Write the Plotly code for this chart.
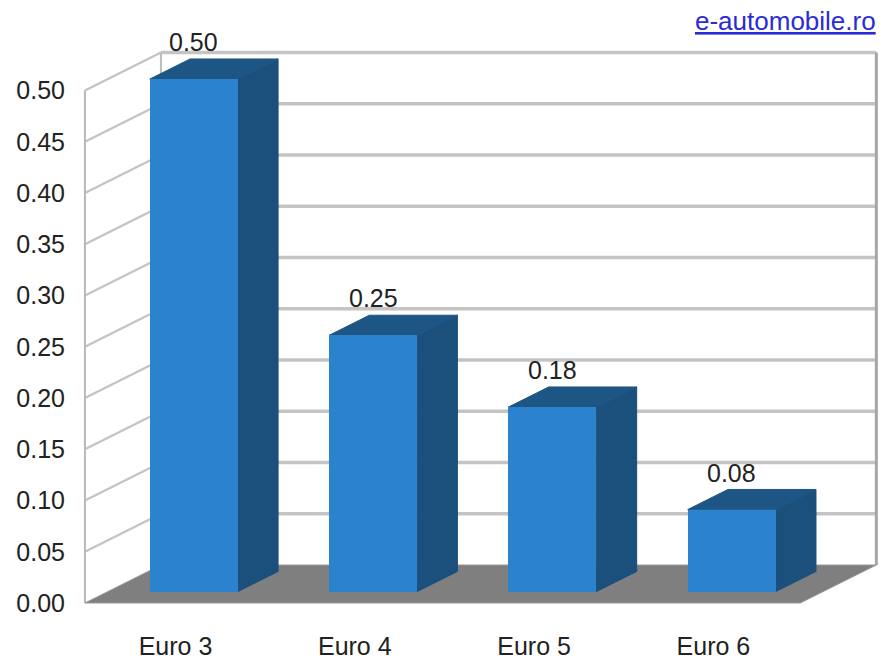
import plotly.graph_objects as go

# ---------------- data ----------------
categories = ["Euro 3", "Euro 4", "Euro 5", "Euro 6"]
values = [0.50, 0.25, 0.18, 0.08]
value_labels = ["0.50", "0.25", "0.18", "0.08"]
y_ticks = [0.00, 0.05, 0.10, 0.15, 0.20, 0.25, 0.30, 0.35, 0.40, 0.45, 0.50]
source_text = "e-automobile.ro"

# ---------------- styling / geometry ----------------
W, H = 883, 661
M_L, M_R, M_T, M_B = 68, 0, 0, 40
X0_PX = 171.0          # pixel of category index 0 (floor front)
PX_PER_CAT = 179.3
Y0_PX = 603.0          # pixel of value 0 (front plane)
PX_PER_VAL = 1025.0

DX = 76 / PX_PER_CAT   # depth vector of the whole floor, in data units
DY = 38 / PX_PER_VAL
F0 = 0.30              # bar front position within depth
FB = 0.53              # bar depth fraction
BAR_W = 88 / PX_PER_CAT
XL, XR = -0.48, 3.51   # floor extent (front edge)
YMAX = y_ticks[-1]
LABEL_SHIFT = 0.025

FONT = "Liberation Sans, Arial, sans-serif"
FS = 25
TXT = "#222222"
FRONT_C = "#2a83cc"
SIDE_C = "#1b4f7c"
TOP_C = "#1d5584"
GRID_C = "#c4c4c4"
FLOOR_C = "#7f7f7f"

x_range = [(M_L - X0_PX) / PX_PER_CAT, (W - M_R - X0_PX) / PX_PER_CAT]
y_range = [(Y0_PX - (H - M_B)) / PX_PER_VAL, (Y0_PX - M_T) / PX_PER_VAL]


def path(pts):
    return "M " + " L ".join(f"{x},{y}" for x, y in pts) + " Z"


shapes = []
# back wall
shapes.append(dict(type="path", layer="below", xref="x", yref="y",
                   path=path([(XL + DX, DY), (XR + DX, DY), (XR + DX, YMAX + DY), (XL + DX, YMAX + DY)]),
                   fillcolor="white", line=dict(width=0)))
# back-wall gridlines & left-wall gridlines
for t in y_ticks[1:]:
    shapes.append(dict(type="line", layer="below", xref="x", yref="y",
                       x0=XL + DX, x1=XR + DX, y0=t + DY, y1=t + DY,
                       line=dict(color=GRID_C, width=3.5)))
    shapes.append(dict(type="line", layer="below", xref="x", yref="y",
                       x0=XL, x1=XL + DX, y0=t, y1=t + DY,
                       line=dict(color=GRID_C, width=2.5)))
# wall edges
shapes.append(dict(type="line", layer="below", xref="x", yref="y",
                   x0=XL + DX, x1=XL + DX, y0=DY, y1=YMAX + DY,
                   line=dict(color="#bdbdbd", width=2)))
shapes.append(dict(type="line", layer="below", xref="x", yref="y",
                   x0=XR + DX, x1=XR + DX, y0=DY, y1=YMAX + DY,
                   line=dict(color="#a6a6a6", width=3)))
shapes.append(dict(type="line", layer="below", xref="x", yref="y",
                   x0=XL, x1=XL, y0=0, y1=YMAX,
                   line=dict(color="#b8b8b8", width=2)))
# floor
shapes.append(dict(type="path", layer="below", xref="x", yref="y",
                   path=path([(XL, 0), (XR, 0), (XR + DX, DY), (XL + DX, DY)]),
                   fillcolor=FLOOR_C, line=dict(color="#9a9a9a", width=1)))

# bar side + top faces
front_x = []
base = F0 * DY
ddx, ddy = FB * DX, FB * DY
for i, v in enumerate(values):
    cx = i + F0 * DX
    front_x.append(cx)
    xl, xr = cx - BAR_W / 2, cx + BAR_W / 2
    top = base + v
    shapes.append(dict(type="path", layer="below", xref="x", yref="y",
                       path=path([(xr, base), (xr, top), (xr + ddx, top + ddy), (xr + ddx, base + ddy)]),
                       fillcolor=SIDE_C, line=dict(color=SIDE_C, width=1)))
    shapes.append(dict(type="path", layer="below", xref="x", yref="y",
                       path=path([(xl, top), (xr, top), (xr + ddx, top + ddy), (xl + ddx, top + ddy)]),
                       fillcolor=TOP_C, line=dict(color=TOP_C, width=1)))

fig = go.Figure()
fig.add_trace(go.Bar(
    x=front_x, y=values, base=[base] * len(values), width=BAR_W,
    marker=dict(color=FRONT_C, line=dict(width=0)),
    hoverinfo="skip", showlegend=False,
))

annotations = []
for cx, v, lab in zip(front_x, values, value_labels):
    annotations.append(dict(x=cx, y=base + v + 0.036, xref="x", yref="y", text=lab,
                            showarrow=False, xanchor="center", yanchor="middle",
                            font=dict(family=FONT, size=FS, color=TXT)))
annotations.append(dict(x=1, y=1, xref="paper", yref="paper", xanchor="right", yanchor="top",
                        xshift=-5, yshift=-4, showarrow=False,
                        text=f"<u>{source_text}</u>",
                        font=dict(family=FONT, size=26, color="#2b2bd6")))

fig.update_layout(
    width=W, height=H, autosize=False,
    margin=dict(l=M_L, r=M_R, t=M_T, b=M_B),
    paper_bgcolor="white", plot_bgcolor="white",
    shapes=shapes, annotations=annotations,
    xaxis=dict(range=x_range, tickmode="array",
               tickvals=[i + LABEL_SHIFT for i in range(len(categories))],
               ticktext=categories, showgrid=False, zeroline=False, showline=False,
               ticks="", ticklabelstandoff=8, tickfont=dict(family=FONT, size=FS, color=TXT)),
    yaxis=dict(range=y_range, tickmode="array", tickvals=y_ticks,
               ticktext=[f"{t:.2f}" for t in y_ticks], showgrid=False, zeroline=False,
               showline=False, ticks="", ticklabelstandoff=2,
               tickfont=dict(family=FONT, size=FS, color=TXT)),
    bargap=0,
)

fig.write_html("out.html")
